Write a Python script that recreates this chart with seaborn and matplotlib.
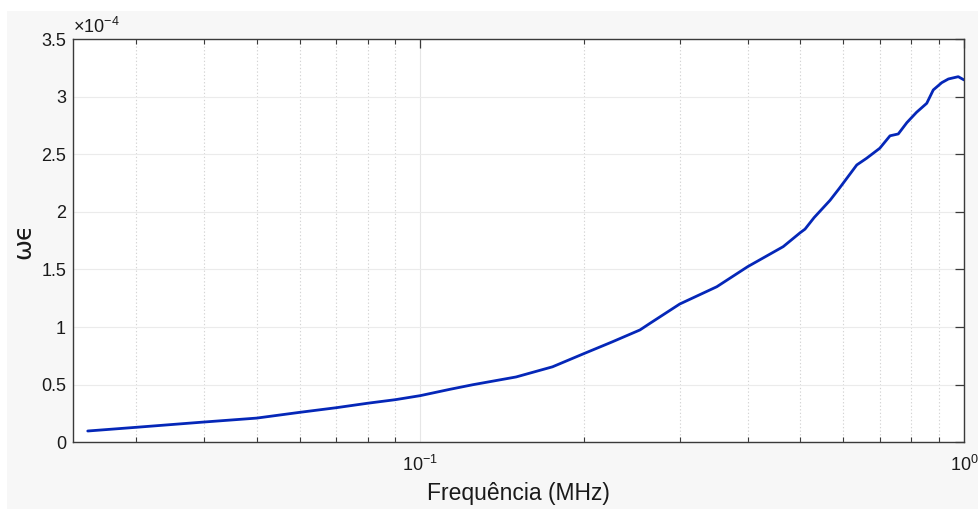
import matplotlib
matplotlib.use("Agg")
import math
import matplotlib.pyplot as plt
import matplotlib.ticker as mticker
from matplotlib.patches import Rectangle
import seaborn as sns
import pandas as pd

# Frequency (MHz) and omega*epsilon (in units of 1e-4)
freq_mhz = [0.02445, 0.030, 0.040, 0.050, 0.060, 0.070, 0.080, 0.090, 0.100,
            0.1134, 0.125, 0.150, 0.175, 0.200, 0.225, 0.2535, 0.2646, 0.300,
            0.351, 0.400, 0.465, 0.500, 0.510, 0.530, 0.567, 0.590, 0.635,
            0.662, 0.700, 0.731, 0.757, 0.785, 0.818, 0.854, 0.878, 0.910,
            0.936, 0.976, 1.000]
we_e4 = [0.098, 0.130, 0.176, 0.210, 0.260, 0.300, 0.339, 0.370, 0.405,
         0.460, 0.500, 0.567, 0.655, 0.770, 0.870, 0.975, 1.033, 1.200,
         1.350, 1.524, 1.698, 1.820, 1.850, 1.950, 2.100, 2.205, 2.407,
         2.465, 2.552, 2.660, 2.676, 2.774, 2.864, 2.942, 3.058, 3.121,
         3.153, 3.173, 3.145]
y_ticks = [0, 0.5, 1, 1.5, 2, 2.5, 3, 3.5]

df = pd.DataFrame({"freq": freq_mhz, "we": we_e4})

sns.set_theme(style="white")
plt.rcParams["font.family"] = ["Liberation Sans", "DejaVu Sans"]
plt.rcParams["mathtext.fontset"] = "custom"
plt.rcParams["mathtext.rm"] = "Liberation Sans"

fig = plt.figure(figsize=(9.79, 5.09), dpi=100, facecolor="white")
fig.patches.append(Rectangle((7 / 979, 0), 1 - 7 / 979, 1 - 11 / 509,
                             transform=fig.transFigure, facecolor="#f7f7f7",
                             edgecolor="none", zorder=-10))
ax = fig.add_axes([73 / 979, 1 - 442.3 / 509, (964 - 73) / 979, (442.3 - 39) / 509])
ax.set_facecolor("white")
ax.set_xscale("log")

sns.lineplot(data=df, x="freq", y="we", ax=ax, color="#0527b8", linewidth=2.0,
             estimator=None, sort=False)

ax.set_xlim(0.02297, 1.0)
ax.set_ylim(0, 3.5)
ax.set_yticks(y_ticks)
ax.yaxis.set_major_formatter(mticker.FuncFormatter(lambda v, p: f"{v:g}"))
ax.xaxis.set_major_locator(mticker.LogLocator(base=10, numticks=10))
ax.xaxis.set_minor_locator(mticker.LogLocator(base=10, subs=range(2, 10), numticks=20))
ax.xaxis.set_minor_formatter(mticker.NullFormatter())
ax.xaxis.set_major_formatter(mticker.FuncFormatter(
    lambda v, p: r"$\mathregular{10^{%d}}$" % round(math.log10(v))))

for s in ax.spines.values():
    s.set_color("#3a3a3a")
    s.set_linewidth(1.0)

ax.tick_params(axis="both", which="major", direction="in", length=6.5, width=0.9,
               color="#3a3a3a", labelsize=13, labelcolor="#1a1a1a",
               top=True, right=True, pad=5)
ax.tick_params(axis="x", which="major", pad=9)
ax.tick_params(axis="x", which="minor", direction="in", length=3.3, width=0.8,
               color="#3a3a3a", top=True, bottom=True)
ax.tick_params(axis="y", which="minor", left=False, right=False)

ax.grid(True, which="major", axis="y", color="#ebebeb", linestyle="-", linewidth=0.8)
ax.grid(True, which="major", axis="x", color="#e6e6e6", linestyle="-", linewidth=0.8)
ax.grid(True, which="minor", axis="x", color="#d4d4d4", linestyle=(0, (1.2, 2.0)), linewidth=0.8)
ax.set_axisbelow(True)

ax.set_xlabel("Frequência (MHz)", fontsize=16.5, color="#1a1a1a", labelpad=5)
ax.set_ylabel("ωϵ", fontsize=18, color="#1a1a1a", labelpad=4,
              family=["DejaVu Sans"])
ax.text(0.0, 1.005, r"$\times\mathregular{10^{-4}}$", transform=ax.transAxes, fontsize=13,
        color="#1a1a1a", ha="left", va="bottom")

fig.savefig("out.png", dpi=100, facecolor=fig.get_facecolor())
